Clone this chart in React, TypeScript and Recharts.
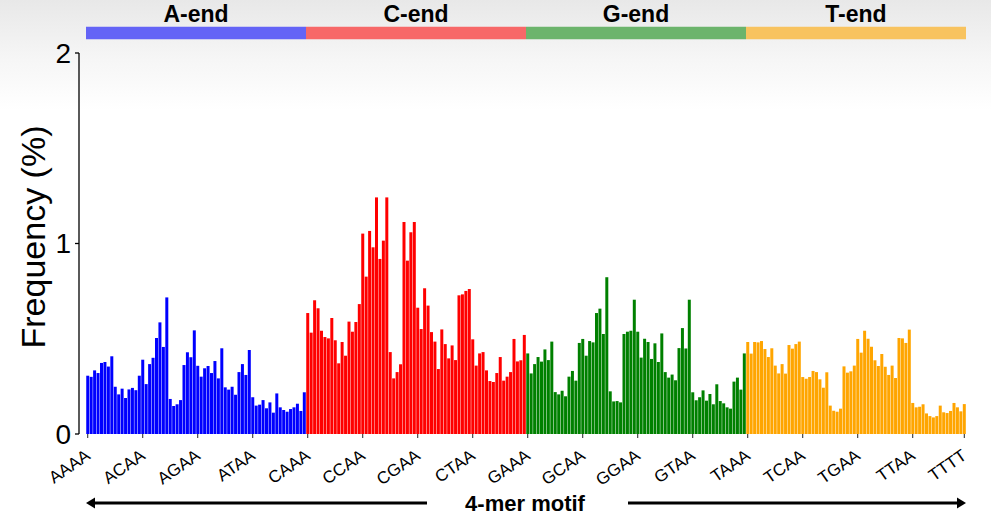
import React from 'react';
import { BarChart, Bar, XAxis, YAxis, Cell, ReferenceArea } from 'recharts';

const bases = ['A', 'C', 'G', 'T'];

const aEndValues = [
  0.306, 0.3, 0.334, 0.32, 0.373, 0.378, 0.354, 0.408, 0.248, 0.208, 0.238, 0.189, 0.234, 0.242, 0.23, 0.306,
  0.39, 0.262, 0.367, 0.4, 0.504, 0.586, 0.457, 0.717, 0.184, 0.147, 0.156, 0.178, 0.362, 0.429, 0.403, 0.544,
  0.358, 0.301, 0.345, 0.357, 0.32, 0.383, 0.292, 0.45, 0.245, 0.233, 0.248, 0.206, 0.325, 0.367, 0.31, 0.441,
  0.193, 0.149, 0.154, 0.178, 0.135, 0.166, 0.112, 0.213, 0.14, 0.126, 0.117, 0.131, 0.14, 0.159, 0.121, 0.219,
];
const cEndValues = [
  0.635, 0.532, 0.702, 0.66, 0.542, 0.509, 0.502, 0.609, 0.492, 0.371, 0.483, 0.411, 0.59, 0.537, 0.588, 0.682,
  1.052, 0.826, 1.066, 0.98, 1.242, 0.919, 1.015, 1.242, 0.43, 0.292, 0.325, 0.366, 1.113, 0.91, 1.059, 1.113,
  0.663, 0.551, 0.765, 0.674, 0.535, 0.485, 0.341, 0.549, 0.472, 0.397, 0.465, 0.388, 0.728, 0.733, 0.751, 0.761,
  0.497, 0.359, 0.423, 0.43, 0.334, 0.278, 0.273, 0.32, 0.404, 0.28, 0.301, 0.325, 0.499, 0.381, 0.387, 0.52,
];
const gEndValues = [
  0.423, 0.318, 0.367, 0.404, 0.38, 0.444, 0.388, 0.485, 0.22, 0.208, 0.227, 0.198, 0.301, 0.331, 0.28, 0.478,
  0.499, 0.411, 0.488, 0.481, 0.635, 0.658, 0.525, 0.823, 0.224, 0.171, 0.173, 0.166, 0.525, 0.537, 0.542, 0.705,
  0.537, 0.401, 0.5, 0.483, 0.394, 0.476, 0.378, 0.528, 0.325, 0.296, 0.312, 0.282, 0.451, 0.556, 0.449, 0.705,
  0.219, 0.177, 0.193, 0.229, 0.175, 0.21, 0.156, 0.261, 0.173, 0.161, 0.14, 0.133, 0.275, 0.296, 0.233, 0.423,
];
const tEndValues = [
  0.483, 0.422, 0.483, 0.481, 0.488, 0.446, 0.404, 0.45, 0.359, 0.318, 0.367, 0.317, 0.467, 0.448, 0.472, 0.485,
  0.299, 0.29, 0.299, 0.331, 0.325, 0.287, 0.243, 0.324, 0.149, 0.122, 0.117, 0.133, 0.355, 0.322, 0.329, 0.359,
  0.499, 0.427, 0.542, 0.5, 0.458, 0.387, 0.357, 0.42, 0.353, 0.31, 0.359, 0.294, 0.504, 0.502, 0.478, 0.548,
  0.163, 0.14, 0.143, 0.156, 0.108, 0.094, 0.087, 0.094, 0.149, 0.114, 0.11, 0.121, 0.163, 0.14, 0.119, 0.157,
];

const tickLabels = [
  'AAAA', 'ACAA', 'AGAA', 'ATAA', 'CAAA', 'CCAA', 'CGAA', 'CTAA', 'GAAA',
  'GCAA', 'GGAA', 'GTAA', 'TAAA', 'TCAA', 'TGAA', 'TTAA', 'TTTT',
];
const yTicks = [0, 1, 2];

const groupNames = ['A-end', 'C-end', 'G-end', 'T-end'];
const barColors = ['#0000ff', '#ff0000', '#008000', '#ffa500'];
const headerColors = ['#6464f6', '#f76868', '#6cb46c', '#f8c35f'];
const groupValues = [aEndValues, cEndValues, gEndValues, tEndValues];

const FONT = '"Liberation Sans", Arial, Helvetica, sans-serif';

const data: { motif: string; value: number; group: number }[] = [];
groupValues.forEach((vals, g) => {
  vals.forEach((v, i) => {
    const motif = bases[g] + bases[(i >> 4) & 3] + bases[(i >> 2) & 3] + bases[i & 3];
    data.push({ motif, value: v, group: g });
  });
});

const XTick = (props: any) => {
  const { x, y, payload } = props;
  const tx = x + 3.5;
  const ty = y + 20;
  return (
    <text
      x={tx}
      y={ty}
      transform={`rotate(-35 ${tx} ${ty})`}
      textAnchor="end"
      fontSize={17}
      fontFamily={FONT}
      fill="#000"
    >
      {payload.value}
    </text>
  );
};

const XAxisArrows = (props: any) => {
  const vb = props.viewBox || {};
  const left = vb.x + 7;
  const right = vb.x + vb.width;
  const y = vb.y + 69;
  const mid = (left + right) / 2 - 1;
  return (
    <g>
      <line x1={left + 6} y1={y} x2={left + 341} y2={y} stroke="#000" strokeWidth={3} />
      <polygon points={`${left},${y} ${left + 9},${y - 5.5} ${left + 9},${y + 5.5}`} fill="#000" />
      <line x1={right - 338} y1={y} x2={right - 6} y2={y} stroke="#000" strokeWidth={3} />
      <polygon points={`${right},${y} ${right - 9},${y - 5.5} ${right - 9},${y + 5.5}`} fill="#000" />
      <text
        x={mid}
        y={y + 8}
        textAnchor="middle"
        fontSize={22}
        fontWeight="bold"
        fontFamily={FONT}
        fill="#000"
      >
        4-mer motif
      </text>
    </g>
  );
};

const YLabel = (props: any) => {
  const vb = props.viewBox || {};
  const tx = vb.x + 45;
  const ty = vb.y + 184;
  return (
    <text
      x={tx}
      y={ty}
      transform={`rotate(-90 ${tx} ${ty})`}
      textAnchor="middle"
      fontSize={34}
      fontFamily={FONT}
      fill="#000"
    >
      Frequency (%)
    </text>
  );
};

export default function App() {
  return (
    <div
      style={{
        position: 'fixed',
        left: 0,
        top: 0,
        width: 991,
        height: 520,
        background: 'linear-gradient(#e8e8e8 0px, #f6f6f6 60px, #ffffff 110px)',
      }}
    >
      <BarChart
        width={991}
        height={520}
        data={data}
        margin={{ top: 53, right: 25, bottom: 0, left: 0 }}
        barCategoryGap="7%"
      >
        <XAxis
          dataKey="motif"
          type="category"
          ticks={tickLabels}
          interval={0}
          axisLine={false}
          tickLine={{ stroke: '#222', strokeWidth: 1 }}
          tickSize={4}
          tickMargin={0}
          height={86}
          padding={{ left: 7, right: 0 }}
          tick={<XTick />}
          label={{ content: <XAxisArrows /> }}
        />
        <YAxis
          type="number"
          domain={[0, 2]}
          ticks={yTicks}
          width={79}
          axisLine={{ stroke: '#000', strokeWidth: 1.3 }}
          tickLine={{ stroke: '#000', strokeWidth: 1.3 }}
          tickSize={4}
          tickMargin={4}
          tick={{ fontSize: 28, fill: '#000', fontFamily: FONT }}
          label={{ content: <YLabel /> }}
        />
        {groupNames.map((name, g) => (
          <ReferenceArea
            key={name}
            x1={data[g * 64].motif}
            x2={data[g * 64 + 63].motif}
            y1={2.072}
            y2={2.138}
            ifOverflow="visible"
            fill={headerColors[g]}
            fillOpacity={1}
            stroke="none"
            label={{
              value: name,
              position: 'top',
              offset: 5,
              fontSize: 23,
              fontWeight: 'bold',
              fill: '#000',
              fontFamily: FONT,
            }}
          />
        ))}
        <Bar dataKey="value" isAnimationActive={false}>
          {data.map((d) => (
            <Cell key={d.motif} fill={barColors[d.group]} />
          ))}
        </Bar>
      </BarChart>
    </div>
  );
}
